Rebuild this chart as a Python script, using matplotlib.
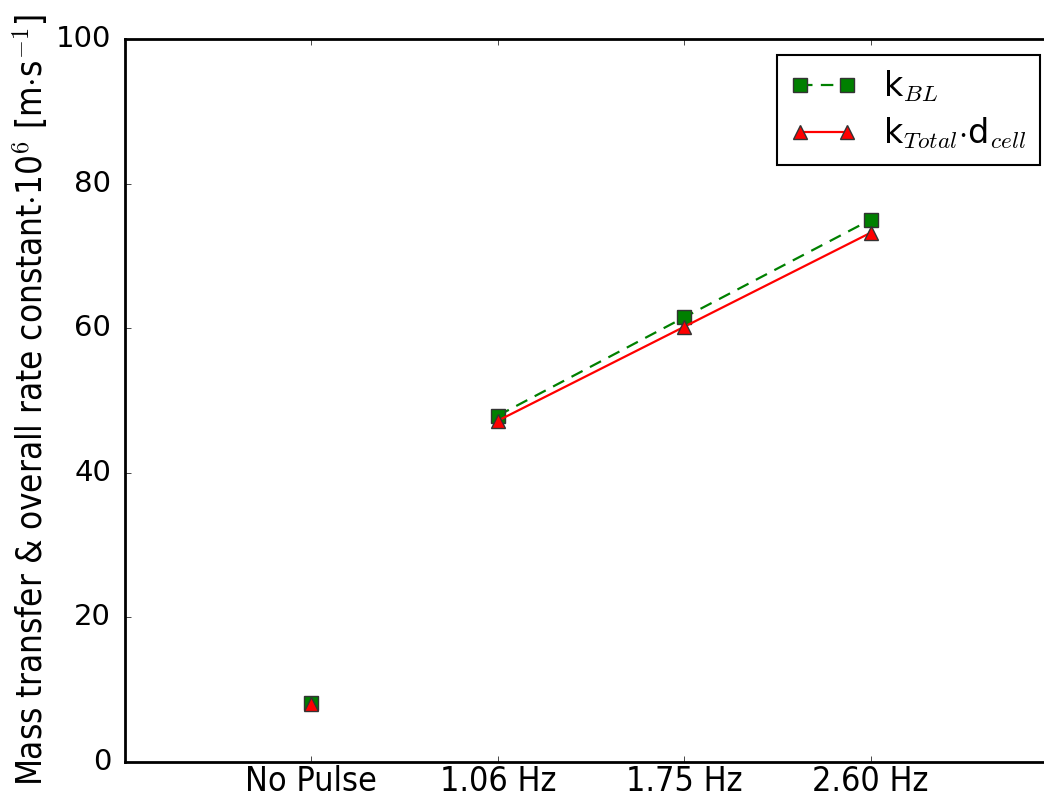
import matplotlib
matplotlib.use('Agg')
import matplotlib.pyplot as plt

# categories on the x axis
categorias = ['No Pulse', '1.06 Hz', '1.75 Hz', '2.60 Hz']

# values (x 10^6 m/s)
k_bl_sem_pulso = 8.2
k_total_sem_pulso = 8.0
k_bl = [47.9, 61.5, 75.0]
k_total = [47.2, 60.2, 73.2]


def gerar_grafico():
    plt.style.use('classic')
    plt.rcParams['mathtext.fontset'] = 'cm'
    plt.rcParams['lines.scale_dashes'] = False

    fig = plt.figure(figsize=(10.44, 7.98), dpi=100)
    ax = fig.add_axes([125 / 1044, 36 / 798, 932 / 1044, 723 / 798])

    x_pulso = list(range(1, len(categorias)))
    estilo_marcador = dict(markersize=10.5, markeredgecolor='#333333', markeredgewidth=1)

    ax.plot([0], [k_bl_sem_pulso], linestyle='none', marker='s', color='green', **estilo_marcador)
    ax.plot([0], [k_total_sem_pulso], linestyle='none', marker='^', color='red', **estilo_marcador)

    ax.plot(x_pulso, k_bl, linestyle='--', dashes=(9, 6), color='green', linewidth=1.6,
            marker='s', markerfacecolor='green', label='k$_{BL}$', **estilo_marcador)
    ax.plot(x_pulso, k_total, linestyle='-', color='red', linewidth=1.6,
            marker='^', markerfacecolor='red',
            label='k$_{Total}$$\\cdot$d$_{cell}$', **estilo_marcador)

    ax.set_xlim(-1, 4)
    ax.set_ylim(0, 100)
    ax.set_xticks(range(len(categorias)))
    ax.set_xticklabels(categorias, fontsize=24.5, fontstretch='condensed')
    ax.set_yticks(range(0, 101, 20))
    ax.tick_params(axis='y', labelsize=21, pad=10)
    ax.tick_params(axis='x', pad=2)
    for spine in ax.spines.values():
        spine.set_linewidth(2)

    ax.set_ylabel('Mass transfer & overall rate constant$\\cdot$10$^{6}$ [m$\\cdot$s$^{-1}$]',
                  fontsize=25, fontstretch='condensed', labelpad=4)

    leg = ax.legend(loc='upper right', fontsize=24, numpoints=2,
                    bbox_to_anchor=(1040 / 1044, 1 - 55 / 798),
                    bbox_transform=fig.transFigure, borderaxespad=0,
                    labelspacing=0.35, handlelength=2.0)
    leg.get_frame().set_linewidth(1.5)

    fig.savefig('out.png', dpi=100)


if __name__ == "__main__":
    gerar_grafico()
